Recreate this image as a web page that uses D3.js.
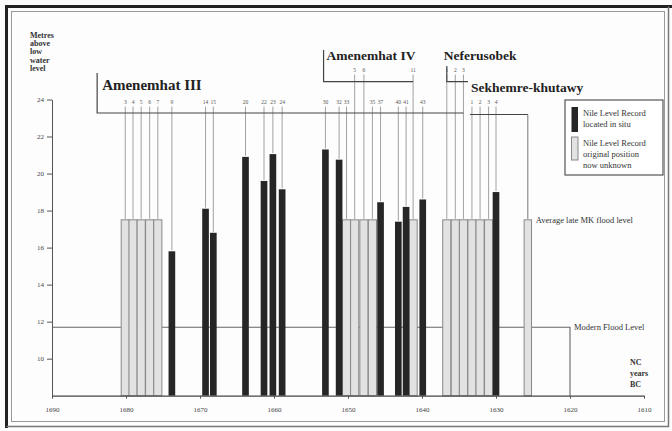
<!DOCTYPE html>
<html>
<head>
<meta charset="utf-8">
<script src="https://cdn.jsdelivr.net/npm/d3@7"></script>
<style>
body { margin: 0; background: #fff; }
svg { display: block; font-family: "Liberation Serif", "Times New Roman", serif; }
</style>
</head>
<body>
<svg id="chart" width="672" height="431"></svg>
<script>
// Nile level records: king, regnal year, position (years BC, NC), metres above low water, found in situ?
const recKing = ['A3','A3','A3','A3','A3','A3','A3','A3','A3','A3','A3','A3','A3','A3','A3','A4','A4','A3','A3','A3','A3','A4','A3','N','N','N','S','S','S','S']
const recYear = [3,4,5,6,7,9,14,15,20,22,23,24,30,32,33,5,6,35,37,40,41,11,43,1,2,3,1,2,3,4]
const recBC = [1680.1,1679.05,1677.95,1676.8,1675.7,1673.8,1669.25,1668.2,1663.85,1661.35,1660.15,1658.9,1653.05,1651.2,1650.2,1649.1,1647.85,1646.7,1645.6,1643.2,1642.15,1641.2,1639.9,1636.65,1635.5,1634.4,1633.25,1632.15,1631.0,1630.0]
const recLevel = [17.5,17.5,17.5,17.5,17.5,15.8,18.1,16.8,20.9,19.6,21.05,19.15,21.3,20.75,17.5,17.5,17.5,17.5,18.45,17.4,18.2,17.5,18.6,17.5,17.5,17.5,17.5,17.5,17.5,19.0]
const recInSitu = [0,0,0,0,0,1,1,1,1,1,1,1,1,1,0,0,0,0,1,1,1,0,1,0,0,0,0,0,0,1]

const kingKey = ['A3','A4','N','S']
const kingName = ['Amenemhat III','Amenemhat IV','Neferusobek','Sekhemre-khutawy']
const kingFrom = [1683.9, 1653.3, 1636.65, 1633.25]

const avgFlood = 17.5
const avgBC = 1625.7
const modernFlood = 11.7

const yTicks = [10,12,14,16,18,20,22,24]
const xTicks = [1690,1680,1670,1660,1650,1640,1630,1620,1610]

const svg = d3.select('#chart')

const x = d3.scaleLinear().domain([1690, 1610]).range([52, 644])
const y = d3.scaleLinear().domain([8, 24]).range([395.7, 99.5])

const recs = recBC.map((bc, i) => ({
    king: recKing[i], year: recYear[i], bc: bc, level: recLevel[i], insitu: recInSitu[i] === 1
}))

// frame
svg.append('rect').attr('x', 0).attr('y', 0).attr('width', 672).attr('height', 431).attr('fill', '#fdfdfd')
svg.append('rect').attr('x', 11.5).attr('y', 11.5).attr('width', 653).attr('height', 410)
    .attr('fill', 'none').attr('stroke', '#999').attr('stroke-width', 1)
svg.append('path').attr('d', 'M6.5,428 V6.5 H672').attr('fill', 'none').attr('stroke', '#222').attr('stroke-width', 3)
svg.append('path').attr('d', 'M6.5,426.5 H668.5 V6.5').attr('fill', 'none').attr('stroke', '#777').attr('stroke-width', 1.5)

// modern flood level
svg.append('path')
    .attr('d', `M${x(1690)},${y(modernFlood)} H${x(1620)} V${y(8)}`)
    .attr('fill', 'none').attr('stroke', '#666').attr('stroke-width', 1.1)

svg.append('text').attr('x', x(1620) + 4).attr('y', y(modernFlood) + 3)
    .attr('font-size', 8.5).attr('fill', '#333').text('Modern Flood Level')

// label lines from regnal year numbers down to bar tops
const labelRow = { A3: 104, A4: 72, N: 72, S: 104 }

svg.selectAll('line.lab')
    .data(recs)
    .enter()
    .append('line')
    .attr('class', 'lab')
    .attr('x1', d => x(d.bc)).attr('x2', d => x(d.bc))
    .attr('y1', d => labelRow[d.king] + 2.5)
    .attr('y2', d => y(d.level) - 1)
    .attr('stroke', '#8a8a8a').attr('stroke-width', 0.8)

svg.selectAll('text.yr')
    .data(recs)
    .enter()
    .append('text')
    .attr('class', 'yr')
    .attr('x', d => x(d.bc)).attr('y', d => labelRow[d.king])
    .attr('text-anchor', 'middle').attr('font-size', 5.5).attr('fill', '#555')
    .text(d => d.year)

// average late MK flood level bar
svg.append('line')
    .attr('x1', x(avgBC)).attr('x2', x(avgBC))
    .attr('y1', 114.5).attr('y2', y(avgFlood) - 1)
    .attr('stroke', '#777').attr('stroke-width', 1)

svg.append('rect')
    .attr('x', x(avgBC + 0.5)).attr('width', x(avgBC - 0.5) - x(avgBC + 0.5))
    .attr('y', y(avgFlood)).attr('height', y(8) - y(avgFlood))
    .attr('fill', '#e2e2e2').attr('stroke', '#888').attr('stroke-width', 1)

svg.append('text').attr('x', x(avgBC) + 8).attr('y', y(avgFlood) + 3)
    .attr('font-size', 8.5).attr('fill', '#333').text('Average late MK flood level')

// bars: grey first, dark on top
const greyW = 1.1, darkW = 0.9

svg.selectAll('rect.grey')
    .data(recs.filter(d => !d.insitu))
    .enter()
    .append('rect')
    .attr('class', 'grey')
    .attr('x', d => x(d.bc + greyW / 2))
    .attr('width', x(1690 - greyW) - x(1690))
    .attr('y', d => y(d.level))
    .attr('height', d => y(8) - y(d.level))
    .attr('fill', '#e2e2e2').attr('stroke', '#888').attr('stroke-width', 1)

svg.selectAll('rect.dark')
    .data(recs.filter(d => d.insitu))
    .enter()
    .append('rect')
    .attr('class', 'dark')
    .attr('x', d => x(d.bc + darkW / 2))
    .attr('width', x(1690 - darkW) - x(1690))
    .attr('y', d => y(d.level))
    .attr('height', d => y(8) - y(d.level))
    .attr('fill', '#262626')

// axes
const yAxis = svg.append('g')
    .attr('transform', `translate(${x(1690)},0)`)
    .call(d3.axisLeft(y).tickValues(yTicks).tickSize(5).tickSizeOuter(0).tickPadding(3))
yAxis.select('.domain').attr('stroke', '#555')
yAxis.selectAll('.tick line').attr('stroke', '#555')
yAxis.selectAll('.tick text').attr('font-family', '"Liberation Serif", serif').attr('font-size', 7).attr('fill', '#444')

const xAxis = svg.append('g')
    .attr('transform', `translate(0,${y(8)})`)
    .call(d3.axisBottom(x).tickValues(xTicks).tickSize(3).tickSizeOuter(0).tickPadding(8).tickFormat(d3.format('d')))
xAxis.select('.domain').attr('stroke', '#444').attr('stroke-width', 1.2)
xAxis.selectAll('.tick line').attr('stroke', '#555')
xAxis.selectAll('.tick text').attr('font-family', '"Liberation Serif", serif').attr('font-size', 7).attr('fill', '#444')

// y title
const yTitle = ['Metres', 'above', 'low', 'water', 'level']
svg.append('text').attr('x', 30).attr('y', 37.5)
    .attr('font-size', 8).attr('font-weight', 'bold').attr('fill', '#333')
    .selectAll('tspan')
    .data(yTitle)
    .enter()
    .append('tspan')
    .attr('x', 30).attr('dy', (d, i) => i ? 8.4 : 0)
    .text(d => d)

// x title
const xTitle = ['NC', 'years', 'BC']
svg.append('text').attr('x', 630).attr('y', 365)
    .attr('font-size', 8).attr('font-weight', 'bold').attr('fill', '#333')
    .selectAll('tspan')
    .data(xTitle)
    .enter()
    .append('tspan')
    .attr('x', 630).attr('dy', (d, i) => i ? 11 : 0)
    .text(d => d)

// king brackets and names
const recOf = (k, yr) => recs.find(r => r.king === k && r.year === yr)

const brackets = [
    `M${x(kingFrom[0])},73 V113 H${x(recOf('N', 3).bc)}`,
    `M${x(kingFrom[1])},50 V81.7 H${x(recOf('A4', 11).bc)}`,
    `M${x(kingFrom[2])},66 V81.7 H${x(recOf('S', 1).bc) - 4}`,
    `M${x(kingFrom[3]) - 2},114.5 H${x(avgBC)}`
]
svg.selectAll('path.br')
    .data(brackets)
    .enter()
    .append('path')
    .attr('class', 'br')
    .attr('d', d => d)
    .attr('fill', 'none').attr('stroke', '#444').attr('stroke-width', 1.2)

const nameX = [x(kingFrom[0]) + 5, x(kingFrom[1]) + 3, x(kingFrom[2]) - 3, x(kingFrom[3]) - 1]
const nameY = [90, 60, 60, 92]
const nameSize = [15, 13.5, 13.5, 13.5]

svg.selectAll('text.king')
    .data(kingName)
    .enter()
    .append('text')
    .attr('class', 'king')
    .attr('x', (d, i) => nameX[i]).attr('y', (d, i) => nameY[i])
    .attr('font-size', (d, i) => nameSize[i])
    .attr('font-weight', 'bold').attr('fill', '#222')
    .text(d => d)

// legend
const lg = svg.append('g').attr('transform', 'translate(565,100)')
lg.append('rect').attr('width', 98).attr('height', 75).attr('fill', '#fff').attr('stroke', '#555').attr('stroke-width', 1.2)
lg.append('rect').attr('x', 6.5).attr('y', 7).attr('width', 6.5).attr('height', 25).attr('fill', '#262626')
lg.append('rect').attr('x', 6.5).attr('y', 37).attr('width', 6.5).attr('height', 23).attr('fill', '#e2e2e2').attr('stroke', '#888')

const legendLines = ['Nile Level Record', 'located in situ', 'Nile Level Record', 'original position', 'now unknown']
const legendY = [16, 27, 46, 57, 68]
lg.selectAll('text')
    .data(legendLines)
    .enter()
    .append('text')
    .attr('x', 18).attr('y', (d, i) => legendY[i])
    .attr('font-size', 8.5).attr('fill', '#333')
    .text(d => d)
</script>
</body>
</html>
